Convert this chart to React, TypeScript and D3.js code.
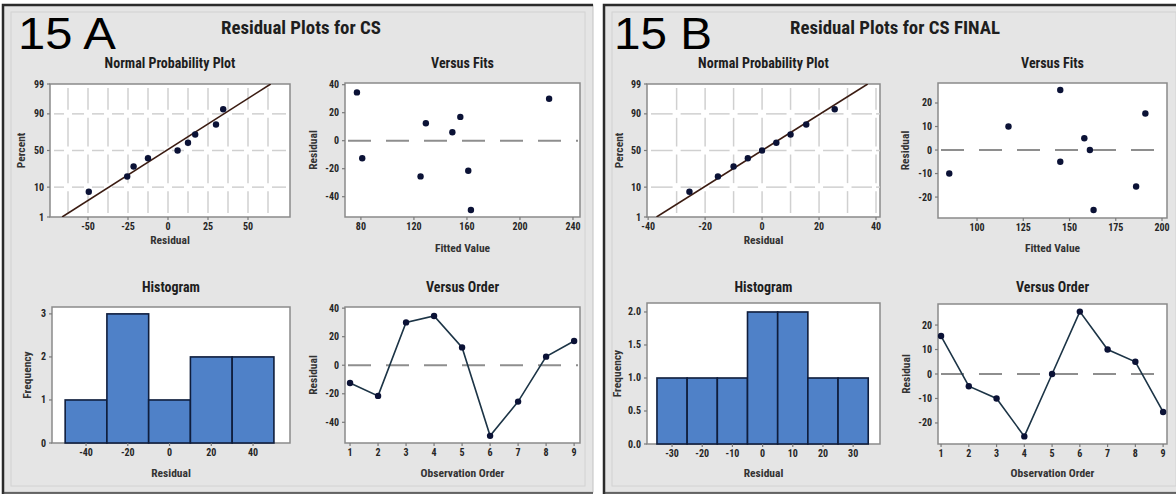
import React, { Component, createRef } from 'react';
import * as d3 from 'd3';

const residualsA = [-12.5, -21.5, 30, 34.5, 12.5, -49.5, -25.5, 6, 17];
const fitsA = [81, 161, 222, 77, 129, 163, 125, 149, 155];
const histMidsA = [-40, -20, 0, 20, 40];
const histCountsA = [1, 3, 1, 2, 2];

const residualsB = [15.5, -5, -10, -25.5, 0, 25.5, 10, 5, -15.5];
const fitsB = [191, 145, 85, 163, 161, 145, 117, 158, 186];
const histMidsB = [-30, -20, -10, 0, 10, 20, 30];
const histCountsB = [1, 1, 1, 2, 2, 1, 1];

const percentTicks = [1, 10, 50, 90, 99];
const percentGrid = [10, 50, 90];
const orderTicks = [1, 2, 3, 4, 5, 6, 7, 8, 9];

const nppTicksA = [-50, -25, 0, 25, 50];
const fitTicksA = [80, 120, 160, 200, 240];
const residTicksA = [-40, -20, 0, 20, 40];
const histXTicksA = [-40, -20, 0, 20, 40];
const histYTicksA = [0, 1, 2, 3];

const nppTicksB = [-40, -20, 0, 20, 40];
const fitTicksB = [100, 125, 150, 175, 200];
const residTicksB = [-20, -10, 0, 10, 20];
const histXTicksB = [-30, -20, -10, 0, 10, 20, 30];
const histYTicksB = [0, 0.5, 1, 1.5, 2];

const FONT = "'Liberation Sans Narrow', 'Arial Narrow', 'Roboto Condensed', 'Liberation Sans', sans-serif";
const TEXT = '#262626';
const POINT = '#0b1236';

const panels = [
  {
    x: 3, w: 590, label: '15 A', labelX: 18, title: 'Residual Plots for CS', titleX: 301, titleLen: 160,
    residuals: residualsA, fits: fitsA, histMids: histMidsA, histCounts: histCountsA,
    npp: { x0: 50, x1: 290, y0: 84, y1: 217, dom: [-73.75, 76.25], grid: 12.5, ticks: nppTicksA, ylab: 21 },
    vf: { x0: 345, x1: 580, y0: 83, y1: 217, dom: [68, 245.3], rdom: [-54.5, 41.2], ticks: fitTicksA, rticks: residTicksA, ylab: 313 },
    hist: { x0: 52, x1: 290, y0: 307, y1: 443, dom: [-56.3, 57.7], fdom: [0, 3.16], ticks: histXTicksA, fticks: histYTicksA, fmt: d3.format('d'), ylab: 27 },
    vo: { x0: 345, x1: 580, y0: 307, y1: 443, dom: [0.82, 9.21], rdom: [-54.5, 40.8], rticks: residTicksA, ylab: 313 },
  },
  {
    x: 604, w: 580, label: '15 B', labelX: 614, title: 'Residual Plots for CS FINAL', titleX: 895, titleLen: 210,
    residuals: residualsB, fits: fitsB, histMids: histMidsB, histCounts: histCountsB,
    npp: { x0: 647, x1: 880, y0: 84, y1: 217, dom: [-40.4, 41.4], grid: 10, ticks: nppTicksB, ylab: 619 },
    vf: { x0: 938, x1: 1167, y0: 83, y1: 218, dom: [78.9, 202.7], rdom: [-28.9, 28.5], ticks: fitTicksB, rticks: residTicksB, ylab: 905 },
    hist: { x0: 647, x1: 880, y0: 303, y1: 444, dom: [-38.3, 38.9], fdom: [0, 2.136], ticks: histXTicksB, fticks: histYTicksB, fmt: d3.format('.1f'), ylab: 617 },
    vo: { x0: 938, x1: 1167, y0: 304, y1: 444, dom: [0.89, 9.14], rdom: [-28.6, 28.6], rticks: residTicksB, ylab: 906 },
  },
];

// inverse normal cdf (Acklam)
function probit(p) {
  const a = [-39.69683028665376, 220.9460984245205, -275.9285104469687, 138.3577518672690, -30.66479806614716, 2.506628277459239];
  const b = [-54.47609879822406, 161.5858368580409, -155.6989798598866, 66.80131188771972, -13.28068155288572];
  const c = [-0.007784894002430293, -0.3223964580411365, -2.400758277161838, -2.549732539343734, 4.374664141464968, 2.938163982698783];
  const d = [0.007784695709041462, 0.3224671290700398, 2.445134137142996, 3.754408661907416];
  const plow = 0.02425;
  if (p < plow) {
    const q = Math.sqrt(-2 * Math.log(p));
    return (((((c[0] * q + c[1]) * q + c[2]) * q + c[3]) * q + c[4]) * q + c[5]) / ((((d[0] * q + d[1]) * q + d[2]) * q + d[3]) * q + 1);
  }
  if (p > 1 - plow) {
    const q = Math.sqrt(-2 * Math.log(1 - p));
    return -(((((c[0] * q + c[1]) * q + c[2]) * q + c[3]) * q + c[4]) * q + c[5]) / ((((d[0] * q + d[1]) * q + d[2]) * q + d[3]) * q + 1);
  }
  const q = p - 0.5;
  const r = q * q;
  return (((((a[0] * r + a[1]) * r + a[2]) * r + a[3]) * r + a[4]) * r + a[5]) * q / (((((b[0] * r + b[1]) * r + b[2]) * r + b[3]) * r + b[4]) * r + 1);
}

class App extends Component {
  constructor(props) {
    super(props);
    this.svgRef = createRef();
  }

  componentDidMount() {
    const svg = d3.select(this.svgRef.current);
    svg.selectAll('*').remove();
    panels.forEach((p, i) => this.drawPanel(svg, p, i));
  }

  frame(g, b) {
    g.append('rect')
      .attr('x', b.x0).attr('y', b.y0)
      .attr('width', b.x1 - b.x0).attr('height', b.y1 - b.y0)
      .attr('fill', '#fff').attr('stroke', '#8a8a8a').attr('stroke-width', 1.5);
  }

  xTicks(g, b, scale, values, fmt) {
    const t = g.append('g').selectAll('g').data(values).join('g')
      .attr('transform', v => `translate(${scale(v)},${b.y1})`);
    t.append('line').attr('y2', 3).attr('stroke', '#7a7a7a').attr('stroke-width', 1.2);
    t.append('text').attr('y', 13).attr('text-anchor', 'middle')
      .attr('font-family', FONT).attr('font-size', 10).attr('font-weight', 'bold').attr('fill', TEXT)
      .text(v => (fmt ? fmt(v) : v));
  }

  yTicks(g, b, pos, values, fmt) {
    const t = g.append('g').selectAll('g').data(values).join('g')
      .attr('transform', v => `translate(${b.x0},${pos(v)})`);
    t.append('line').attr('x2', -3).attr('stroke', '#7a7a7a').attr('stroke-width', 1.2);
    t.append('text').attr('x', -6).attr('y', 3.5).attr('text-anchor', 'end')
      .attr('font-family', FONT).attr('font-size', 10).attr('font-weight', 'bold').attr('fill', TEXT)
      .text(v => (fmt ? fmt(v) : v));
  }

  labels(g, b, title, titleY, xlab, xlabY, ylab, ylabX) {
    const cx = (b.x0 + b.x1) / 2;
    const cy = (b.y0 + b.y1) / 2;
    g.append('text').attr('x', cx).attr('y', titleY).attr('text-anchor', 'middle')
      .attr('font-family', FONT).attr('font-size', 14).attr('font-weight', 'bold').attr('fill', '#1e1e1e')
      .text(title);
    g.append('text').attr('x', cx).attr('y', xlabY).attr('text-anchor', 'middle')
      .attr('font-family', FONT).attr('font-size', 11.5).attr('font-weight', 'bold').attr('fill', '#333')
      .text(xlab);
    g.append('text').attr('transform', `translate(${ylabX + 4},${cy}) rotate(-90)`).attr('text-anchor', 'middle')
      .attr('font-family', FONT).attr('font-size', 11.5).attr('font-weight', 'bold').attr('fill', '#333')
      .text(ylab);
  }

  zeroLine(g, b, y) {
    g.append('line')
      .attr('x1', b.x0 + 3).attr('x2', b.x1 - 2).attr('y1', y).attr('y2', y)
      .attr('stroke', '#8e8e8e').attr('stroke-width', 2).attr('stroke-dasharray', '23,15');
  }

  drawPanel(svg, p, idx) {
    const g = svg.append('g');

    // panel window
    g.append('rect').attr('x', p.x).attr('y', 5).attr('width', p.w).attr('height', 487)
      .attr('fill', '#e5e5e5').attr('stroke', '#c2c2c2');
    g.append('rect').attr('x', p.x + 8).attr('y', 12).attr('width', p.w - 16).attr('height', 474)
      .attr('fill', 'none').attr('stroke', '#d2d2d2');
    g.append('path').attr('d', `M${p.x},494V5H${p.x + p.w}`)
      .attr('fill', 'none').attr('stroke', '#2b2b2b').attr('stroke-width', 2.5);
    g.append('line').attr('x1', p.x).attr('x2', p.x + p.w).attr('y1', 493).attr('y2', 493)
      .attr('stroke', '#3a3a3a').attr('stroke-width', 1.5);

    g.append('text').attr('x', p.titleX).attr('y', 34).attr('text-anchor', 'middle')
      .attr('font-family', FONT).attr('font-size', 19).attr('font-weight', 'bold').attr('fill', '#1e1e1e')
      .attr('textLength', p.titleLen).attr('lengthAdjust', 'spacingAndGlyphs')
      .text(p.title);

    const res = p.residuals;

    // ---- normal probability plot
    const n = p.npp;
    const nx = d3.scaleLinear().domain(n.dom).range([n.x0, n.x1]);
    const zMax = probit(0.99);
    const nz = d3.scaleLinear().domain([-zMax, zMax]).range([n.y1, n.y0]);
    const py = pct => nz(probit(pct / 100));
    this.frame(g, n);
    const gridXs = d3.range(Math.ceil(n.dom[0] / n.grid), Math.floor(n.dom[1] / n.grid) + 1)
      .map(k => nx(k * n.grid)).filter(x => x > n.x0 + 3 && x < n.x1 - 3);
    const levels = [n.y1, ...percentGrid.map(py), n.y0];
    const gap = 4;
    const grid = g.append('g').attr('stroke', '#d0d0d0').attr('stroke-width', 1.5);
    gridXs.forEach(x => {
      for (let i = 0; i < levels.length - 1; i++) {
        grid.append('line').attr('x1', x).attr('x2', x)
          .attr('y1', levels[i] - gap).attr('y2', levels[i + 1] + gap);
      }
    });
    const cols = [n.x0, ...gridXs, n.x1];
    percentGrid.forEach(pc => {
      const y = py(pc);
      for (let i = 0; i < cols.length - 1; i++) {
        grid.append('line').attr('y1', y).attr('y2', y)
          .attr('x1', cols[i] + gap).attr('x2', cols[i + 1] - gap);
      }
    });
    const clipId = 'nppclip' + idx;
    g.append('clipPath').attr('id', clipId).append('rect')
      .attr('x', n.x0).attr('y', n.y0).attr('width', n.x1 - n.x0).attr('height', n.y1 - n.y0);
    const mean = d3.mean(res);
    const sd = d3.deviation(res);
    g.append('line').attr('clip-path', `url(#${clipId})`)
      .attr('x1', nx(mean - sd * zMax)).attr('y1', nz(-zMax))
      .attr('x2', nx(mean + sd * zMax)).attr('y2', nz(zMax))
      .attr('stroke', '#3b1c12').attr('stroke-width', 1.6);
    const sorted = res.slice().sort(d3.ascending);
    g.append('g').selectAll('circle').data(sorted).join('circle')
      .attr('cx', v => nx(v))
      .attr('cy', (v, i) => nz(probit((i + 1 - 0.3) / (sorted.length + 0.4))))
      .attr('r', 3.2).attr('fill', POINT);
    this.xTicks(g, n, nx, n.ticks);
    this.yTicks(g, n, py, percentTicks);
    this.labels(g, n, 'Normal Probability Plot', 68, 'Residual', 244, 'Percent', n.ylab);

    // ---- versus fits
    const f = p.vf;
    const fx = d3.scaleLinear().domain(f.dom).range([f.x0, f.x1]);
    const fy = d3.scaleLinear().domain(f.rdom).range([f.y1, f.y0]);
    this.frame(g, f);
    this.zeroLine(g, f, fy(0));
    g.append('g').selectAll('circle').data(res).join('circle')
      .attr('cx', (v, i) => fx(p.fits[i])).attr('cy', v => fy(v))
      .attr('r', 3.2).attr('fill', POINT);
    this.xTicks(g, f, fx, f.ticks);
    this.yTicks(g, f, fy, f.rticks);
    this.labels(g, f, 'Versus Fits', 68, 'Fitted Value', 252, 'Residual', f.ylab);

    // ---- histogram
    const h = p.hist;
    const hx = d3.scaleLinear().domain(h.dom).range([h.x0, h.x1]);
    const hy = d3.scaleLinear().domain(h.fdom).range([h.y1, h.y0]);
    const bw = p.histMids[1] - p.histMids[0];
    this.frame(g, h);
    g.append('g').selectAll('rect').data(p.histMids).join('rect')
      .attr('x', m => hx(m - bw / 2))
      .attr('width', m => hx(m + bw / 2) - hx(m - bw / 2))
      .attr('y', (m, i) => hy(p.histCounts[i]))
      .attr('height', (m, i) => hy(0) - hy(p.histCounts[i]))
      .attr('fill', '#4f81c8').attr('stroke', '#0f1d3c').attr('stroke-width', 1.6);
    this.xTicks(g, h, hx, h.ticks);
    this.yTicks(g, h, hy, h.fticks, h.fmt);
    this.labels(g, h, 'Histogram', 292, 'Residual', 477, 'Frequency', h.ylab);

    // ---- versus order
    const o = p.vo;
    const ox = d3.scaleLinear().domain(o.dom).range([o.x0, o.x1]);
    const oy = d3.scaleLinear().domain(o.rdom).range([o.y1, o.y0]);
    this.frame(g, o);
    this.zeroLine(g, o, oy(0));
    const line = d3.line().x((v, i) => ox(i + 1)).y(v => oy(v));
    g.append('path').attr('d', line(res))
      .attr('fill', 'none').attr('stroke', '#1c3446').attr('stroke-width', 1.6);
    g.append('g').selectAll('circle').data(res).join('circle')
      .attr('cx', (v, i) => ox(i + 1)).attr('cy', v => oy(v))
      .attr('r', 3.2).attr('fill', POINT);
    this.xTicks(g, o, ox, orderTicks);
    this.yTicks(g, o, oy, o.rticks);
    this.labels(g, o, 'Versus Order', 292, 'Observation Order', 477, 'Residual', o.ylab);

    // big label on top
    g.append('text').attr('x', p.labelX).attr('y', 49)
      .attr('font-family', "'Liberation Sans', Arial, sans-serif").attr('font-size', 45).attr('fill', '#000')
      .attr('textLength', 98).attr('lengthAdjust', 'spacingAndGlyphs')
      .text(p.label);
  }

  render() {
    return (
      <svg ref={this.svgRef} width={1176} height={495}
        style={{ position: 'absolute', left: 0, top: 0, background: '#fff' }} />
    );
  }
}

export default App;
